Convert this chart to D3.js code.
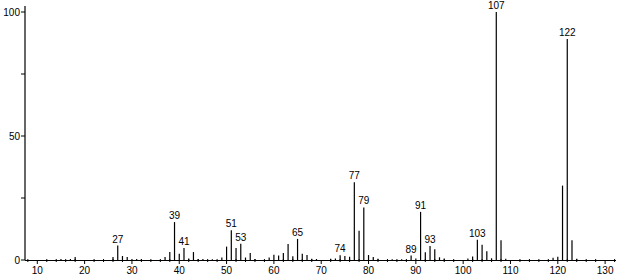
<!DOCTYPE html>
<html>
<head>
<meta charset="utf-8">
<script src="https://cdn.jsdelivr.net/npm/d3@7"></script>
<style>
  body { margin: 0; background: #fff; }
  svg { display: block; }
  text { font-family: "Liberation Sans", Arial, sans-serif; font-size: 10px; fill: #000; }
</style>
</head>
<body>
<div id="chart"></div>
<script>
// m/z values and relative intensities
const mzValues = [15, 17, 18, 26, 27, 28, 29, 30, 31, 32, 37, 38, 39, 40, 41, 42, 43, 44, 45, 47,
  49, 50, 51, 52, 53, 54, 55, 56, 59, 60, 61, 62, 63, 64, 65, 66, 67, 68, 69, 72,
  73, 74, 75, 76, 77, 78, 79, 80, 81, 82, 85, 87, 89, 90, 91, 92, 93, 94, 95, 96,
  101, 102, 103, 104, 105, 106, 107, 108, 109, 119, 120, 121, 122, 123, 124];
const intensities = [0.4, 0.4, 1.2, 1.2, 5.8, 1.6, 1.2, 0.4, 0.4, 0.3, 1.2, 3.2, 15.3, 2.5, 4.8, 0.6, 3.2, 0.4, 0.4, 0.3,
  1.0, 5.4, 12.0, 4.8, 6.6, 1.0, 2.8, 0.4, 1.0, 2.1, 1.8, 2.8, 6.5, 1.5, 8.5, 2.5, 2.0, 0.5, 0.4, 0.5,
  0.6, 1.9, 1.6, 1.3, 31.4, 11.8, 21.2, 2.0, 1.2, 0.5, 0.3, 0.3, 1.8, 0.6, 19.4, 3.1, 5.6, 4.3, 1.1, 0.6,
  0.6, 1.4, 8.2, 6.1, 3.5, 0.7, 100, 8.0, 0.5, 0.9, 1.3, 30.0, 89.1, 8.0, 0.5];
const labelledPeaks = [27, 39, 41, 51, 53, 65, 74, 77, 79, 89, 91, 93, 103, 107, 122];
const xMajorTicks = [10, 20, 30, 40, 50, 60, 70, 80, 90, 100, 110, 120, 130];
const yLabelTicks = [0, 50, 100];
const yMinorTicks = [25, 75];

const peaks = mzValues.map((mz, i) => ({mz: mz, value: intensities[i]}));

const width = 618, height = 277;
const svg = d3.select("#chart").append("svg")
    .attr("width", width)
    .attr("height", height);

const xScale = d3.scaleLinear().domain([7.4, 132.3]).range([25, 616]);
const yScale = d3.scaleLinear().domain([0, 100]).range([260, 12]);

// y axis line (runs a little above 100)
svg.append("line")
    .attr("x1", 25).attr("x2", 25)
    .attr("y1", 6).attr("y2", yScale(0))
    .attr("stroke", "#000").attr("stroke-width", 1.2);

const yAxisG = svg.append("g").attr("class", "yAxisG");
yAxisG.selectAll(".yTick")
    .data(yLabelTicks.concat(yMinorTicks))
    .join("line")
    .attr("class", "yTick")
    .attr("x1", 21).attr("x2", 25)
    .attr("y1", d => yScale(d)).attr("y2", d => yScale(d))
    .attr("stroke", "#000");
yAxisG.selectAll(".yLabel")
    .data(yLabelTicks)
    .join("text")
    .attr("class", "yLabel")
    .attr("x", 20)
    .attr("y", d => yScale(d) + 3.5)
    .attr("text-anchor", "end")
    .text(d => d);

// x axis
const xAxisG = svg.append("g").attr("class", "xAxisG");
xAxisG.append("line")
    .attr("x1", 25).attr("x2", 616)
    .attr("y1", yScale(0) + 0.5).attr("y2", yScale(0) + 0.5)
    .attr("stroke", "#000");

const minorTicks = d3.range(8, 133, 2).filter(d => d % 10 !== 0);
xAxisG.selectAll(".xMinor")
    .data(minorTicks)
    .join("line")
    .attr("class", "xMinor")
    .attr("x1", d => xScale(d)).attr("x2", d => xScale(d))
    .attr("y1", yScale(0) - 1).attr("y2", yScale(0) + 2)
    .attr("stroke", "#000");
xAxisG.selectAll(".xMajor")
    .data(xMajorTicks)
    .join("line")
    .attr("class", "xMajor")
    .attr("x1", d => xScale(d)).attr("x2", d => xScale(d))
    .attr("y1", yScale(0)).attr("y2", yScale(0) + 4)
    .attr("stroke", "#000");
xAxisG.selectAll(".xLabel")
    .data(xMajorTicks)
    .join("text")
    .attr("class", "xLabel")
    .attr("x", d => xScale(d))
    .attr("y", 274)
    .attr("text-anchor", "middle")
    .text(d => d);

// peaks as sticks
svg.selectAll(".peak")
    .data(peaks)
    .join("line")
    .attr("class", "peak")
    .attr("x1", d => xScale(d.mz)).attr("x2", d => xScale(d.mz))
    .attr("y1", yScale(0)).attr("y2", d => yScale(d.value))
    .attr("stroke", "#000")
    .attr("stroke-width", 1.2);

svg.selectAll(".peakLabel")
    .data(peaks.filter(d => labelledPeaks.includes(d.mz)))
    .join("text")
    .attr("class", "peakLabel")
    .attr("x", d => xScale(d.mz))
    .attr("y", d => yScale(d.value) - 3)
    .attr("text-anchor", "middle")
    .text(d => d.mz);
</script>
</body>
</html>
